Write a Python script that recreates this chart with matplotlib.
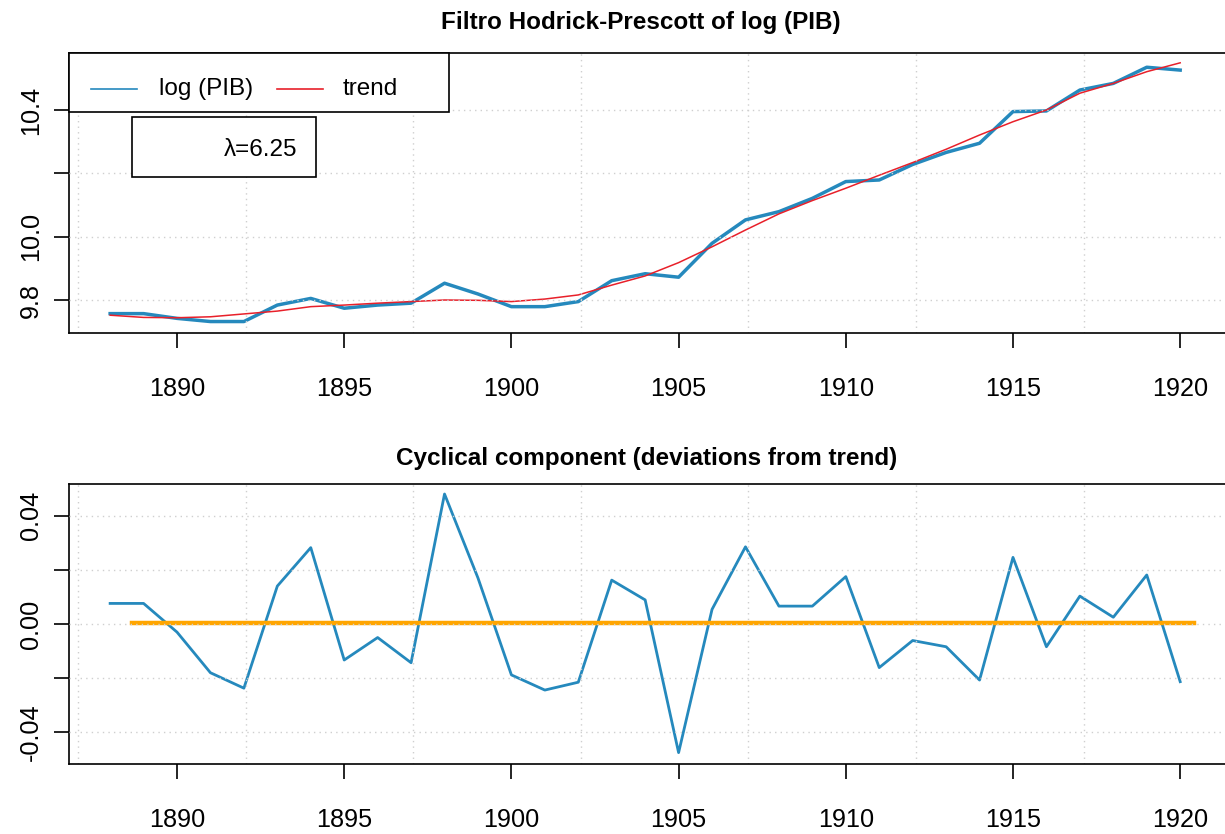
import matplotlib
matplotlib.use("Agg")
import matplotlib.pyplot as plt
from matplotlib.patches import Rectangle
from matplotlib.lines import Line2D

plt.rcParams['font.family'] = ['Liberation Sans', 'DejaVu Sans']

years = list(range(1888, 1921))
log_pib = [9.757, 9.757, 9.742, 9.732, 9.732, 9.784, 9.805, 9.774, 9.784, 9.790,
           9.853, 9.819, 9.779, 9.779, 9.795, 9.861, 9.883, 9.872, 9.979, 10.053,
           10.079, 10.121, 10.174, 10.179, 10.228, 10.266, 10.295, 10.395, 10.397,
           10.463, 10.484, 10.535, 10.526]
trend = [9.752, 9.745, 9.744, 9.747, 9.756, 9.765, 9.779, 9.784, 9.790, 9.795,
         9.800, 9.799, 9.795, 9.803, 9.816, 9.847, 9.876, 9.918, 9.968, 10.021,
         10.072, 10.114, 10.153, 10.194, 10.234, 10.276, 10.321, 10.363, 10.400,
         10.453, 10.484, 10.521, 10.549]
cycle = [0.0076, 0.0076, -0.003, -0.018, -0.0237, 0.014, 0.0282, -0.0133, -0.005,
         -0.0143, 0.048, 0.017, -0.0188, -0.0244, -0.0215, 0.0162, 0.0089, -0.0475,
         0.0054, 0.0285, 0.0066, 0.0066, 0.0175, -0.0161, -0.0061, -0.0084, -0.0207,
         0.0246, -0.0084, 0.0103, 0.0025, 0.0181, -0.0213]
zero_x = [1888.65, 1920.41]
zero_y = [0.0003, 0.0003]

x_ticks = [1890, 1895, 1900, 1905, 1910, 1915, 1920]
x_grid = [1887.05, 1892.06, 1897.07, 1902.08, 1907.09, 1912.10, 1917.11, 1922.12]
top_yticks = [9.8, 10.0, 10.2, 10.4]
top_ylabels = ['9.8', '10.0', '', '10.4']
bot_yticks = [-0.04, -0.02, 0.0, 0.02, 0.04]
bot_ylabels = ['-0.04', '', '0.00', '', '0.04']

title_top = "Filtro Hodrick-Prescott of log (PIB)"
title_bot = "Cyclical component (deviations from trend)"
lambda_text = "λ=6.25"

BLUE = '#2589bd'
RED = '#e8202a'
ORANGE = '#FFA500'
GRID = '#cfcfcf'
FS = 17.5
TFS = 18.2

W, H = 1225, 834
fig = plt.figure(figsize=(W / 100, H / 100), dpi=100)


def px_axes(left, top, right, bottom):
    return fig.add_axes([left / W, 1 - bottom / H, (right - left) / W, (bottom - top) / H])


ax1 = px_axes(69, 53, 1225, 333)
ax2 = px_axes(69, 484, 1225, 764)

for ax in (ax1, ax2):
    ax.set_xlim(1886.77, 1921.34)
    ax.set_axisbelow(False)
    ax.spines['right'].set_visible(False)
    for s in ('left', 'top', 'bottom'):
        ax.spines[s].set_linewidth(1.2)
    ax.set_xticks(x_ticks)
    ax.set_xticklabels([str(t) for t in x_ticks])
    ax.tick_params(axis='both', direction='out', length=10.5, width=1.2, labelsize=TFS)
    ax.tick_params(axis='x', pad=21)
    ax.tick_params(axis='y', pad=8)
    ax.yaxis.grid(True, color=GRID, linestyle=(0, (1, 3)), linewidth=1.0, zorder=2.5)
    for gx in x_grid:
        ax.axvline(gx, color=GRID, linestyle=(0, (1, 3)), linewidth=1.0, zorder=2.5)

# Top panel
ax1.set_ylim(9.6958, 10.58)
ax1.set_yticks(top_yticks)
ax1.set_yticklabels(top_ylabels, rotation=90, va='center')
ax1.plot(years, log_pib, color=BLUE, linewidth=2.5, zorder=2)
ax1.plot(years, trend, color=RED, linewidth=1.1, zorder=2.1)

# legend box
ax1.add_patch(Rectangle((0, 0.789), 0.3287, 0.211, transform=ax1.transAxes,
                        facecolor='white', edgecolor='black', linewidth=1.2, zorder=5,
                        clip_on=False))
ax1.add_line(Line2D([0.019, 0.0588], [0.872, 0.872], transform=ax1.transAxes,
                    color=BLUE, linewidth=1.2, zorder=6))
ax1.text(0.0779, 0.872, "log (PIB)", transform=ax1.transAxes, fontsize=FS,
         va='center', ha='left', zorder=6)
ax1.add_line(Line2D([0.18, 0.2197], [0.872, 0.872], transform=ax1.transAxes,
                    color=RED, linewidth=1.2, zorder=6))
ax1.text(0.237, 0.872, "trend", transform=ax1.transAxes, fontsize=FS,
         va='center', ha='left', zorder=6)

# lambda box
ax1.add_patch(Rectangle((0.0545, 0.557), 0.1592, 0.214, transform=ax1.transAxes,
                        facecolor='white', edgecolor='black', linewidth=1.2, zorder=5))
ax1.text(0.1972, 0.6536, lambda_text, transform=ax1.transAxes, fontsize=FS,
         va='center', ha='right', zorder=6)

# Bottom panel
ax2.set_ylim(-0.0517, 0.0517)
ax2.set_yticks(bot_yticks)
ax2.set_yticklabels(bot_ylabels, rotation=90, va='center')
ax2.plot(years, cycle, color=BLUE, linewidth=2.0, zorder=2)
ax2.plot(zero_x, zero_y, color=ORANGE, linewidth=3.2, zorder=2.1)

fig.text(641 / W, 1 - 23 / H, title_top, fontsize=17.5, fontweight='bold',
         ha='center', va='center')
fig.text(647 / W, 1 - 458 / H, title_bot, fontsize=17.5, fontweight='bold',
         ha='center', va='center')

fig.savefig("out.png", dpi=100)
